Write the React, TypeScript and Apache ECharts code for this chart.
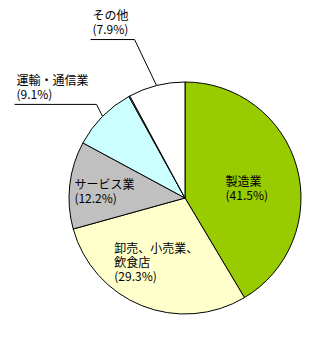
import React, { useEffect, useRef } from "react";
import * as echarts from "echarts";

const categories = ["製造業", "卸売、小売業、飲食店", "サービス業", "運輸・通信業", "", "その他"];
const labelNames = ["製造業", "卸売、小売業、\n飲食店", "サービス業", "運輸・通信業", "", "その他"];
const shares = [41.5, 29.3, 12.2, 9.1, 0.15, 7.9];
const colors = ["#99CC00", "#FFFFCC", "#C0C0C0", "#CCFFFF", "#FFFFFF", "#FFFFFF"];
const outsideIdx = [3, 5];

// label offsets (layout only)
const insideShift: Record<number, [number, number]> = { 0: [3, 6], 1: [-6, 7], 2: [-20, -1] };
const leaderShape: Record<number, [number, number, number]> = { 3: [-6, -12, -82], 5: [-22, -46, -44] };

export default function App() {
  const ref = useRef<HTMLDivElement>(null);
  useEffect(() => {
    const chart = echarts.init(ref.current!, undefined, { renderer: "svg" });
    const data = categories.map((c, i) => {
      const outside = outsideIdx.includes(i);
      const hidden = labelNames[i] === "";
      return {
        name: c,
        value: shares[i],
        itemStyle: { color: colors[i] },
        label: hidden
          ? { show: false }
          : {
              show: true,
              position: outside ? "outside" : "inside",
              formatter: `${labelNames[i]}\n(${shares[i]}%)`,
              align: "left",
            },
        labelLine: { show: outside && !hidden, length: 20, length2: 20 },
      };
    });
    chart.setOption({
      animation: false,
      series: [
        {
          type: "pie",
          center: [185, 198],
          radius: 116,
          startAngle: 90,
          clockwise: true,
          avoidLabelOverlap: false,
          silent: true,
          itemStyle: { borderColor: "#000", borderWidth: 1 },
          label: {
            color: "#000",
            fontSize: 12,
            lineHeight: 14,
            fontFamily: "'Noto Sans CJK JP', sans-serif",
          },
          labelLine: { lineStyle: { color: "#000", width: 1 }, smooth: false },
          labelLayout: (p: any) => {
            const i = p.dataIndex;
            if (leaderShape[i] && p.labelLinePoints) {
              const p0 = p.labelLinePoints[0];
              const [ax, ay, bx] = leaderShape[i];
              const p1 = [p0[0] + ax, p0[1] + ay];
              const p2 = [p1[0] + bx, p1[1]];
              return {
                x: p2[0] + 2,
                y: p2[1] - 4,
                align: "left",
                verticalAlign: "bottom",
                labelLinePoints: [p0, p1, p2],
              };
            }
            if (insideShift[i] && p.labelRect) {
              const [dx, dy] = insideShift[i];
              return {
                x: p.labelRect.x + dx,
                y: p.labelRect.y + dy,
                align: "left",
                verticalAlign: "top",
              };
            }
            return {};
          },
          data,
        },
      ],
    });
    return () => chart.dispose();
  }, []);
  return (
    <div
      ref={ref}
      style={{ position: "absolute", left: 0, top: 0, width: 334, height: 340, background: "#fff" }}
    />
  );
}
